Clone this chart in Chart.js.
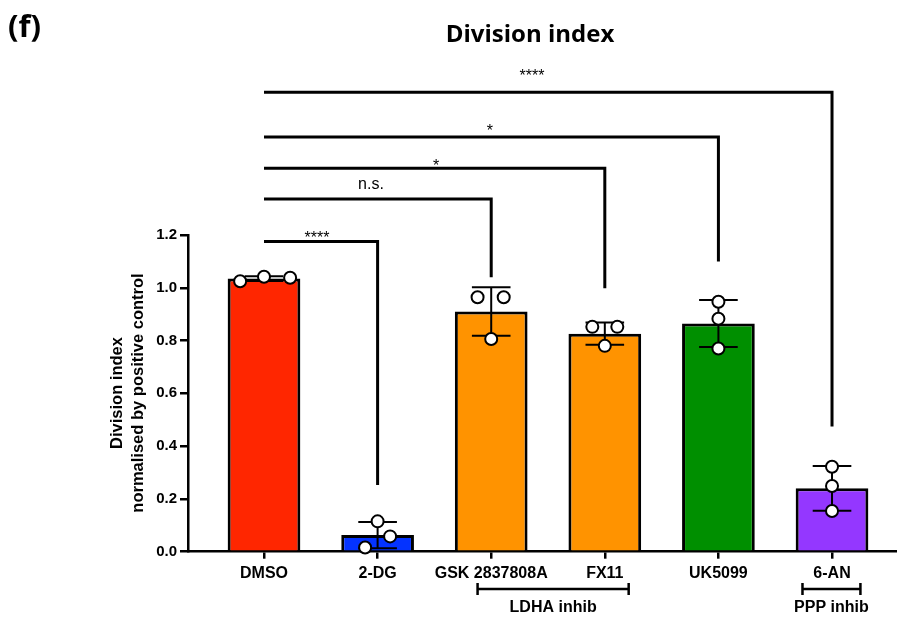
<!DOCTYPE html>
<html>
<head>
<meta charset="utf-8">
<script src="https://cdn.jsdelivr.net/npm/chart.js@4/dist/chart.umd.min.js"></script>
<style>
  html, body { margin: 0; padding: 0; background: #fff; }
  canvas { display: block; }
</style>
</head>
<body>
<canvas id="chart" width="897" height="617"></canvas>
<script>
// ---- data ----
const categories = ['DMSO', '2-DG', 'GSK 2837808A', 'FX11', 'UK5099', '6-AN'];
const meanValues = [1.035, 0.063, 0.910, 0.826, 0.865, 0.240];
const sdValues   = [0.009, 0.050, 0.092, 0.042, 0.089, 0.085];
const replicateA = [1.025, 0.115, 0.964, 0.852, 0.947, 0.322];
const replicateB = [1.042, 0.058, 0.964, 0.852, 0.883, 0.249];
const replicateC = [1.038, 0.016, 0.806, 0.780, 0.770, 0.154];
const yTickValues = [0, 0.2, 0.4, 0.6, 0.8, 1.0, 1.2];

// significance comparisons against DMSO
const comparisonTargets = [1, 2, 3, 4, 5];
const comparisonLabels  = ['****', 'n.s.', '*', '*', '****'];
const bracketLevels     = [1.175, 1.336, 1.453, 1.571, 1.741];
const bracketDrops      = [0.253, 1.040, 0.998, 1.100, 0.474];

// treatment groups under the axis
const groupNames = ['LDHA inhib', 'PPP inhib'];
const groupSpans = [[1.88, 3.21], [4.74, 5.25]];

// ---- layout / style ----
const FONT = "'Liberation Sans', Arial, Helvetica, sans-serif";
const TITLE_FONT = "'Open Sans', 'DejaVu Sans', sans-serif";
const barColors = ['#FF2600', '#0433FF', '#FF9300', '#FF9300', '#008F00', '#9437FF'];
const jitterA = [-0.21, 0.00, -0.12, -0.11, 0, 0];
const jitterB = [0.00, 0.11, 0.11, 0.11, 0, 0];
const jitterC = [0.23, -0.11, 0.00, 0.00, 0, 0];
const labelX = [0.467, 0.942, 1.514, 1.989, 2.359];   // label centres, x units
const labelLift = [7.7, 14.3, 6, 10, 20.6];           // px above bracket line
const capHalf = 0.17;                                 // error-bar cap half width, x units

const points = [];
categories.forEach((c, i) => {
  points.push({ x: i + jitterA[i], y: replicateA[i] });
  points.push({ x: i + jitterB[i], y: replicateB[i] });
  points.push({ x: i + jitterC[i], y: replicateC[i] });
});

const overlay = {
  id: 'overlay',
  afterDatasetDraw(chart, args) {
    if (args.index !== 0) return;
    // mean ± SD error bars, drawn between bars and replicate points
    const { ctx, scales: { x, y } } = chart;
    ctx.save();
    ctx.strokeStyle = '#000';
    ctx.lineWidth = 2;
    meanValues.forEach((m, i) => {
      const px = x.getPixelForValue(i);
      const hi = y.getPixelForValue(m + sdValues[i]);
      const lo = y.getPixelForValue(m - sdValues[i]);
      const l = x.getPixelForValue(i - capHalf), r = x.getPixelForValue(i + capHalf);
      ctx.beginPath();
      ctx.moveTo(px, hi); ctx.lineTo(px, lo);
      ctx.moveTo(l, hi); ctx.lineTo(r, hi);
      ctx.moveTo(l, lo); ctx.lineTo(r, lo);
      ctx.stroke();
    });
    ctx.restore();
  },
  afterDraw(chart) {
    const { ctx, chartArea, scales: { x, y } } = chart;
    ctx.save();
    ctx.strokeStyle = '#000';
    ctx.fillStyle = '#000';

    // comparison brackets
    ctx.lineWidth = 3;
    ctx.lineJoin = 'miter';
    const x0 = x.getPixelForValue(0);
    comparisonTargets.forEach((t, k) => {
      const xt = x.getPixelForValue(t);
      const yl = y.getPixelForValue(bracketLevels[k]);
      const yd = y.getPixelForValue(bracketDrops[k]);
      ctx.beginPath();
      ctx.moveTo(x0, yl);
      ctx.lineTo(xt, yl);
      ctx.lineTo(xt, yd);
      ctx.stroke();
      const label = comparisonLabels[k];
      const cy = yl - labelLift[k];
      ctx.textAlign = 'center';
      ctx.textBaseline = 'alphabetic';
      ctx.font = '16px ' + FONT;
      const lift = label.startsWith('*') ? 0.57 * 16 : 0.26 * 16;
      ctx.fillText(label, x.getPixelForValue(labelX[k]), cy + lift);
    });

    // group brackets below the axis
    const gy = chartArea.bottom + 37.3;
    ctx.lineWidth = 2.5;
    groupSpans.forEach((s, g) => {
      const a = x.getPixelForValue(s[0]), b = x.getPixelForValue(s[1]);
      ctx.beginPath();
      ctx.moveTo(a, gy); ctx.lineTo(b, gy);
      ctx.moveTo(a, gy - 6); ctx.lineTo(a, gy + 6);
      ctx.moveTo(b, gy - 6); ctx.lineTo(b, gy + 6);
      ctx.stroke();
      ctx.font = 'bold 16px ' + FONT;
      ctx.textAlign = 'center';
      ctx.textBaseline = 'middle';
      ctx.fillText(groupNames[g], (a + b) / 2, gy + 18.5);
    });

    // y axis title
    ctx.save();
    ctx.translate(127.5, 393);
    ctx.rotate(-Math.PI / 2);
    ctx.font = 'bold 16.5px ' + FONT;
    ctx.textAlign = 'center';
    ctx.textBaseline = 'middle';
    ctx.fillText('Division index', 0, -10.5);
    ctx.fillText('normalised by positive control', 0, 10.5);
    ctx.restore();

    // chart title and panel letter
    ctx.font = 'bold 24px ' + TITLE_FONT;
    ctx.textAlign = 'center';
    ctx.textBaseline = 'middle';
    ctx.fillText('Division index', 530, 35);
    ctx.font = 'bold 31px ' + TITLE_FONT;
    ctx.textAlign = 'left';
    ctx.fillText('(f)', 8, 28);
    ctx.restore();
  }
};

new Chart(document.getElementById('chart'), {
  data: {
    datasets: [
      {
        type: 'bar',
        data: meanValues.map((v, i) => ({ x: i, y: v })),
        backgroundColor: barColors,
        borderColor: '#000',
        borderWidth: 3,
        barPercentage: 0.64,
        categoryPercentage: 1,
        order: 2
      },
      {
        type: 'scatter',
        data: points,
        pointRadius: 6,
        pointBackgroundColor: '#fff',
        pointBorderColor: '#000',
        pointBorderWidth: 2,
        clip: false,
        order: 1
      }
    ]
  },
  options: {
    responsive: false,
    animation: false,
    events: [],
    layout: { autoPadding: false, padding: { top: 235, left: 0, right: 0, bottom: 0 } },
    plugins: { legend: { display: false }, tooltip: { enabled: false }, title: { display: false } },
    scales: {
      x: {
        type: 'linear',
        offset: false,
        min: -0.669,
        max: 5.572,
        afterBuildTicks: s => { s.ticks = categories.map((c, i) => ({ value: i })); },
        afterFit: s => { s.height = 617 - 551.7; s.paddingLeft = 0; s.paddingRight = 0; },
        ticks: {
          callback: v => categories[v],
          font: { family: FONT, size: 16, weight: 'bold' },
          color: '#000',
          padding: 5,
          maxRotation: 0,
          autoSkip: false
        },
        grid: { offset: false, drawOnChartArea: false, drawTicks: true, tickLength: 7, color: '#000', lineWidth: 2.5 },
        border: { display: true, color: '#000', width: 2.5 }
      },
      y: {
        min: 0,
        max: 1.2,
        afterBuildTicks: s => { s.ticks = yTickValues.map(v => ({ value: v })); },
        afterFit: s => { s.width = 188; },
        ticks: {
          callback: v => v.toFixed(1),
          font: { family: FONT, size: 15, weight: 'bold' },
          color: '#000',
          padding: 3
        },
        grid: { drawOnChartArea: false, drawTicks: true, tickLength: 8, color: '#000', lineWidth: 2.5 },
        border: { display: true, color: '#000', width: 2.5 }
      }
    }
  },
  plugins: [overlay]
});
</script>
</body>
</html>
